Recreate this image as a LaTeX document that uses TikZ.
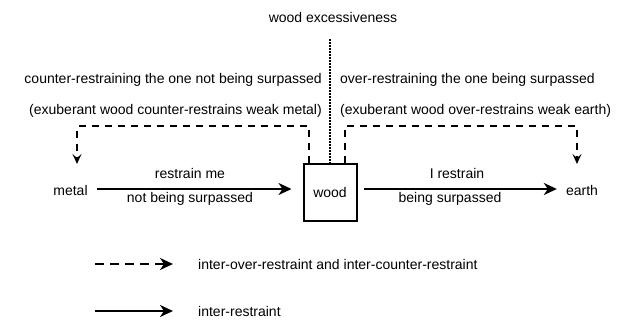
\documentclass[tikz,border=0pt]{standalone}
\usepackage{fontspec}
\setmainfont{Liberation Sans}
\usetikzlibrary{arrows.meta,calc}
\begin{document}
\begin{tikzpicture}[x=1pt,y=-1pt,
  lbl/.style={font=\fontsize{14}{16}\selectfont, inner sep=0pt},
  solidarrow/.style={line width=2.6pt, -{Stealth[length=13pt,width=12pt,inset=4pt]}},
  dasharrow/.style={line width=2pt, dash pattern=on 7pt off 6pt, -{Stealth[length=10pt,width=9pt,inset=4pt]}},
  legdash/.style={line width=2.6pt, dash pattern=on 9pt off 6pt, -{Stealth[length=13pt,width=12pt,inset=4pt]}},
  dotline/.style={line width=1.6pt, dash pattern=on 1.6pt off 1.4pt},
  woodbox/.style={draw, line width=2pt, minimum width=53pt, minimum height=57pt, inner sep=0pt, font=\fontsize{14}{16}\selectfont}]
\useasboundingbox (0,0) rectangle (627,324);

% texts
\node[lbl] (ex) at (333,17) {wood excessiveness};
\node[lbl, anchor=east] (cl1) at (322,80) {counter-restraining the one not being surpassed};
\node[lbl, anchor=east] (cl2) at (322,111) {(exuberant wood counter-restrains weak metal)};
\node[lbl, anchor=west] (or1) at (340,80) {over-restraining the one being surpassed};
\node[lbl, anchor=west] (or2) at (340,111) {(exuberant wood over-restrains weak earth)};

% main nodes
\node[woodbox] (wood) at (330,192) {wood};
\node[lbl] (metal) at (70.5,190) {metal};
\node[lbl] (earth) at (582,190) {earth};

% solid arrows
\draw[solidarrow] ($(metal.east)+(9,-1)$) -- ($(wood.west)+(-11,-3)$);
\draw[solidarrow] ($(wood.east)+(6,-3)$) -- ($(earth.west)+(-9,-1)$);

\node[lbl] (rm) at (190,173) {restrain me};
\node[lbl] (nbs) at (190,199) {not being surpassed};
\node[lbl] (ir) at (457,173) {I restrain};
\node[lbl] (bs) at (450,199) {being surpassed};

% dotted line
\coordinate (dtop) at (330,39);
\draw[dotline] (dtop) -- (dtop|-wood.north);

% dashed connectors
\coordinate (wl) at ($(wood.north west)+(6.5,0)$);
\coordinate (wr) at ($(wood.north east)+(-13,0)$);
\coordinate (lc) at (77,126);
\coordinate (rc) at (577,126);
\coordinate (mt) at (77,164);
\coordinate (et) at (577,164);
\draw[dasharrow] (wl) -- (wl|-lc) -- (lc) -- (mt);
\draw[dasharrow] (wr) -- (wr|-rc) -- (rc) -- (et);

% legend
\coordinate (l1a) at (95,264);
\coordinate (l1b) at (173,264);
\coordinate (l2a) at (95,311);
\coordinate (l2b) at (173,311);
\draw[legdash] (l1a) -- (l1b);
\draw[solidarrow] (l2a) -- (l2b);
\node[lbl, anchor=west] (leg1) at (198,264) {inter-over-restraint and inter-counter-restraint};
\node[lbl, anchor=west] (leg2) at (198,311) {inter-restraint};
\end{tikzpicture}
\end{document}
